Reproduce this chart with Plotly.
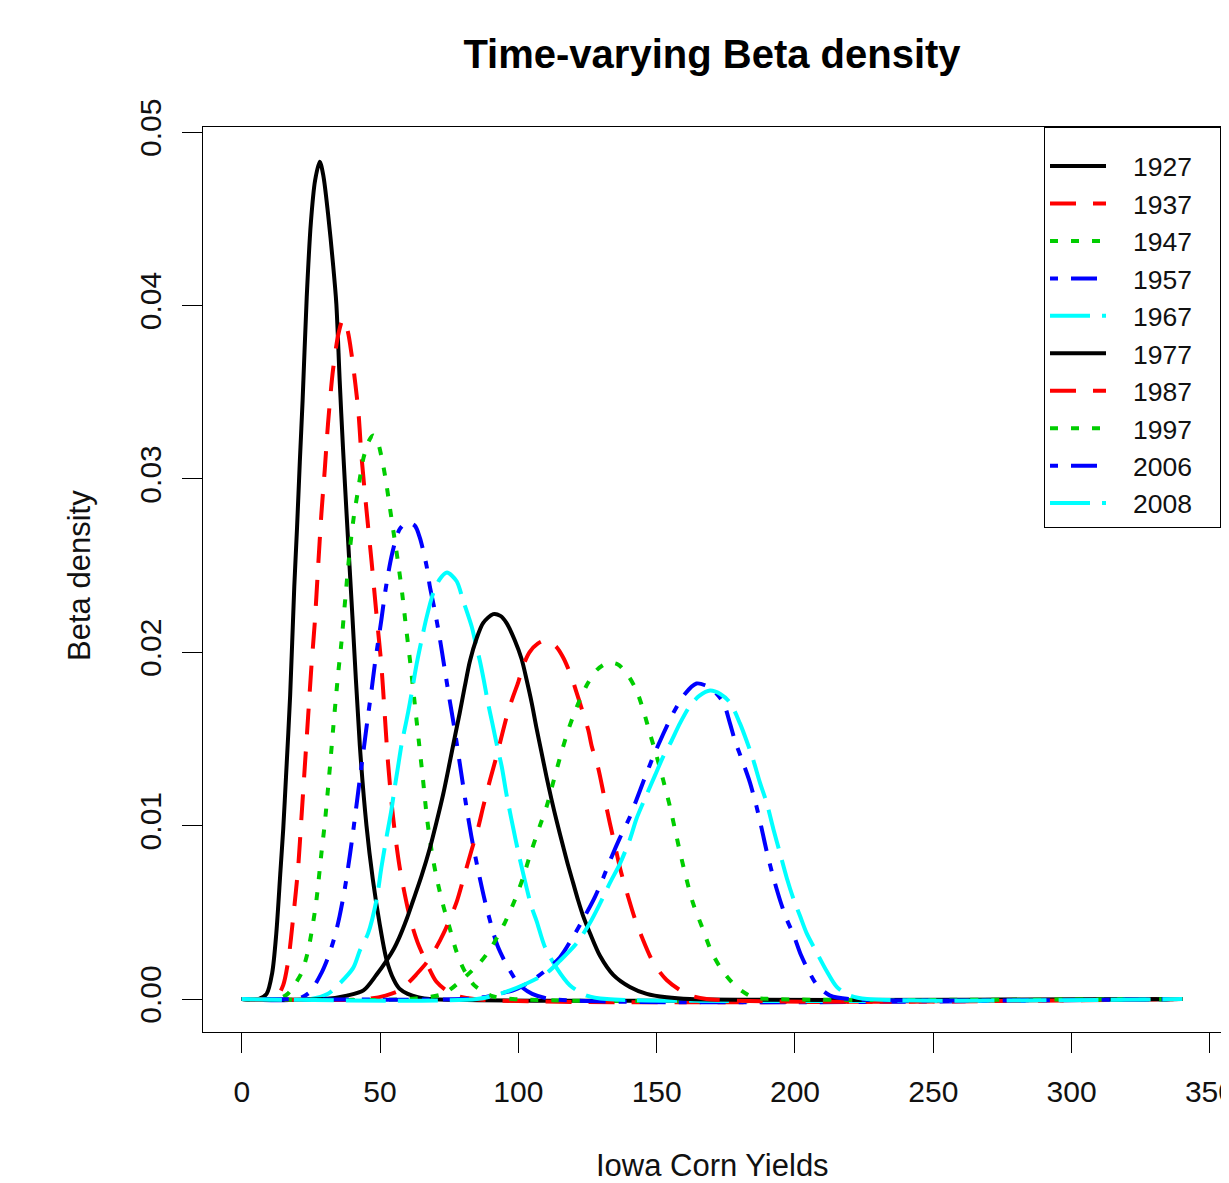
import plotly.graph_objs as go

# Beta density of Iowa corn yields
x_1927 = [0, 6, 9, 11, 12.5, 14, 15, 16, 17.5, 19, 20, 21, 22, 23.5, 25, 26.5, 28.2, 29.5, 31.2, 33,
          34.2, 35.4, 36.6, 37.9, 40, 42.7, 45.1, 47.4, 49.9, 52.3, 55, 57, 60, 64, 68, 340]
y_1927 = [0, 0, 0.0003, 0.0015, 0.0038, 0.0074, 0.0098, 0.0128, 0.0175, 0.0238, 0.0272, 0.031, 0.0345,
          0.0405, 0.0448, 0.0472, 0.0483, 0.0475, 0.0453, 0.0424, 0.0401, 0.0357, 0.0318, 0.028, 0.0221,
          0.0146, 0.0100, 0.0069, 0.0043, 0.0023, 0.0011, 0.0006, 0.0003, 0.0001, 0, 0]

x_1937 = [0, 11, 13, 15, 16.8, 18.6, 20.4, 21.6, 22.8, 24, 25.2, 26.4, 27.6, 28.8, 30, 31.2, 33, 35, 36.6,
          38.2, 39.7, 42.1, 43.3, 45.1, 46.9, 48.7, 50.5, 51.7, 52.9, 54.7, 57.1, 60.8, 63.5, 66.8, 70.4,
          76, 84, 340]
y_1937 = [0, 0, 0.0002, 0.0008, 0.0022, 0.0047, 0.0076, 0.0105, 0.0134, 0.0163, 0.0192, 0.0217, 0.0249,
          0.028, 0.0305, 0.0332, 0.0363, 0.0384, 0.0392, 0.0386, 0.0372, 0.034, 0.0313, 0.0282, 0.0253,
          0.0222, 0.0192, 0.0164, 0.0136, 0.0105, 0.0076, 0.0047, 0.0033, 0.0021, 0.0010, 0.0003, 0, 0]

x_1947 = [0, 13, 16.6, 19, 21.6, 24, 25.8, 27, 28.8, 30, 31, 32, 33, 34, 35, 36, 37.5, 39, 40.5, 42, 44,
          46, 47.5, 49, 50.5, 52, 53.5, 55, 56.5, 58, 59.5, 61, 62.5, 64, 65.5, 67, 69, 71, 73, 75, 77.5,
          80, 84, 90, 98, 340]
y_1947 = [0, 0, 0.0003, 0.0008, 0.0015, 0.0028, 0.0044, 0.0057, 0.0084, 0.0101, 0.0118, 0.0136, 0.0155,
          0.0173, 0.019, 0.0205, 0.0232, 0.0258, 0.0278, 0.0293, 0.0312, 0.0322, 0.0325, 0.0322, 0.0313,
          0.03, 0.0284, 0.0268, 0.0252, 0.0234, 0.0213, 0.0193, 0.0171, 0.0149, 0.0127, 0.0104, 0.0082,
          0.0066, 0.0053, 0.0042, 0.0028, 0.0018, 0.0008, 0.0002, 0, 0]

x_1957 = [0, 20, 24.6, 28.8, 31.2, 33.6, 35.4, 37.3, 39.1, 40.3, 41.5, 42.7, 44, 45.7, 47, 48.1, 49.3,
          50.5, 51.7, 52.9, 54.1, 55.5, 57.1, 59.8, 62.6, 64.4, 66.8, 68, 69.8, 71.6, 73.4, 75, 77, 79, 81,
          83, 85.5, 88, 90.3, 92.4, 96, 100.5, 105, 112, 340]
y_1957 = [0, 0, 0.0004, 0.0015, 0.0024, 0.0036, 0.0048, 0.0064, 0.0083, 0.0097, 0.0112, 0.0127, 0.0143,
          0.0164, 0.0179, 0.0193, 0.0206, 0.0219, 0.0233, 0.0245, 0.0255, 0.0264, 0.0271, 0.0275, 0.0273,
          0.0266, 0.025, 0.0238, 0.0224, 0.0208, 0.019, 0.0174, 0.0155, 0.0134, 0.0113, 0.0094, 0.0074,
          0.0056, 0.0042, 0.0031, 0.0019, 0.0008, 0.0003, 0, 0]

x_1967 = [0, 25, 31.2, 35.4, 40.3, 42.7, 45.7, 48.7, 50.5, 52.3, 54.1, 55.3, 56.5, 57.8, 59.6, 60.8, 61.9,
          63.2, 65, 66.8, 69.2, 71.5, 74.2, 77.7, 80, 83.1, 84.6, 86.1, 87.5, 89, 90.6, 92.3, 94, 95.6,
          97.2, 99, 100.5, 103, 104.8, 106.6, 109.6, 113.8, 118.6, 124.7, 132, 340]
y_1967 = [0, 0, 0.0003, 0.0009, 0.0018, 0.0028, 0.0038, 0.0057, 0.0076, 0.0093, 0.0109, 0.0122, 0.0134,
          0.0147, 0.0161, 0.0171, 0.0181, 0.0193, 0.0207, 0.022, 0.0234, 0.0242, 0.0246, 0.0241, 0.023,
          0.0215, 0.0205, 0.0195, 0.0184, 0.0171, 0.0159, 0.0146, 0.0134, 0.0119, 0.0106, 0.0092, 0.0081,
          0.0064, 0.0053, 0.0045, 0.003, 0.0018, 0.0008, 0.0002, 0, 0]

x_1977 = [0, 30, 38, 44, 48.7, 52.3, 55, 57.1, 59.6, 62, 65, 68, 70.4, 72.8, 75, 77, 78.8, 80.6, 82.5,
          84.9, 87.3, 90.9, 93.5, 95.7, 98.7, 101.2, 103, 104.8, 106.6, 108.4, 110.2, 112, 113.8, 116.2,
          118, 119.8, 121.6, 123.4, 125.9, 129.5, 134.3, 140.3, 146.4, 153.6, 162, 340]
y_1977 = [0, 0, 0.0002, 0.0005, 0.0014, 0.0022, 0.0029, 0.0036, 0.0046, 0.0057, 0.0071, 0.0087, 0.0102,
          0.0118, 0.0135, 0.0151, 0.0165, 0.018, 0.0195, 0.0208, 0.0217, 0.0222, 0.0221, 0.0217, 0.0207,
          0.0196, 0.0184, 0.0171, 0.0156, 0.0142, 0.0128, 0.0115, 0.0103, 0.0088, 0.0077, 0.0067, 0.0057,
          0.0048, 0.0038, 0.0025, 0.0014, 0.0007, 0.0003, 0.0001, 0, 0]

x_1987 = [0, 45, 52, 57.1, 60, 63, 66.8, 70.4, 73, 75.2, 77.7, 80.6, 83.1, 85.5, 87.3, 89.7, 92.1, 94.5,
          96.3, 98.2, 100, 101.7, 104, 107, 110.2, 113.8, 116.2, 119.2, 121, 122.8, 125.3, 126.5, 128.9,
          131, 133, 135, 137, 139.5, 142, 144.6, 148.8, 153.6, 160.8, 168, 340]
y_1987 = [0, 0, 0.0002, 0.0005, 0.0009, 0.0014, 0.0021, 0.003, 0.0038, 0.0046, 0.0056, 0.0072, 0.0086,
          0.0099, 0.0111, 0.0126, 0.014, 0.0155, 0.0166, 0.0175, 0.0183, 0.0192, 0.02, 0.0205, 0.0207,
          0.0203, 0.0197, 0.0186, 0.0177, 0.0168, 0.0155, 0.0146, 0.0133, 0.0117, 0.0102, 0.0088, 0.0074,
          0.006, 0.0047, 0.0036, 0.0021, 0.0011, 0.0003, 0, 0]

x_1997 = [0, 60, 72.8, 79.5, 86.1, 90.3, 95.1, 98.7, 101.7, 104.2, 107.8, 110.2, 112.6, 115, 118, 121,
          124.7, 128.5, 132.5, 136, 139.5, 142.7, 145.1, 147.6, 150, 152.4, 154.8, 156.6, 158.4, 160.8,
          163.2, 166.3, 169.9, 173.5, 178.9, 184.9, 192, 340]
y_1997 = [0, 0, 0.0003, 0.0011, 0.0021, 0.003, 0.0044, 0.0057, 0.007, 0.0083, 0.01, 0.0111, 0.0125,
          0.0139, 0.0155, 0.0168, 0.0181, 0.019, 0.0194, 0.0193, 0.0187, 0.0178, 0.0167, 0.0153, 0.014,
          0.0126, 0.0111, 0.0098, 0.0085, 0.0069, 0.0055, 0.0042, 0.0027, 0.0017, 0.0007, 0.0001, 0, 0]

x_2006 = [0, 80, 87.3, 93, 98.1, 102, 105.2, 110.2, 115, 119.8, 123.4, 127.7, 130.7, 133.7, 136.7, 140.3,
          142.7, 145.8, 148.8, 152.4, 156, 160.2, 164.4, 167.5, 170.5, 174.1, 176.5, 178.3, 181.3, 183.7,
          186.1, 188, 189.8, 192.2, 194.6, 197, 199.5, 202, 205, 208, 212.7, 220, 340]
y_2006 = [0, 0, 0.0001, 0.0003, 0.0005, 0.0008, 0.0011, 0.0017, 0.0024, 0.0036, 0.0046, 0.0059, 0.007,
          0.0082, 0.0093, 0.0105, 0.0115, 0.0128, 0.014, 0.0153, 0.0165, 0.0176, 0.0182, 0.0181, 0.0178,
          0.0171, 0.0159, 0.0149, 0.0136, 0.0125, 0.0111, 0.0098, 0.0085, 0.007, 0.0057, 0.0046, 0.0037,
          0.0026, 0.0016, 0.0008, 0.0002, 0, 0]

x_2008 = [0, 85, 93.3, 103, 110.2, 115, 121, 125.9, 129.5, 133.1, 136.7, 140.3, 142.7, 146.4, 149.4,
          152.4, 155.4, 158.4, 162, 165.5, 169.3, 173, 176.5, 180.1, 182.5, 184.9, 187.3, 189.8, 192.2,
          194.6, 197, 199.4, 201.8, 204.2, 207.8, 211.5, 215.1, 219.9, 226, 340]
y_2008 = [0, 0, 0.0003, 0.0009, 0.0015, 0.0022, 0.0032, 0.0044, 0.0055, 0.0067, 0.0078, 0.0092, 0.0104,
          0.0118, 0.0129, 0.014, 0.0149, 0.0159, 0.0169, 0.0175, 0.0178, 0.0176, 0.0171, 0.0159, 0.0149,
          0.0138, 0.0125, 0.0113, 0.0098, 0.0084, 0.007, 0.0058, 0.0048, 0.0038, 0.0027, 0.0016, 0.0007,
          0.0002, 0, 0]

years = ['1927', '1937', '1947', '1957', '1967', '1977', '1987', '1997', '2006', '2008']
xs = [x_1927, x_1937, x_1947, x_1957, x_1967, x_1977, x_1987, x_1997, x_2006, x_2008]
ys = [y_1927, y_1937, y_1947, y_1957, y_1967, y_1977, y_1987, y_1997, y_2006, y_2008]

x_ticks = [0, 50, 100, 150, 200, 250, 300, 350]
y_ticks = [0, 0.01, 0.02, 0.03, 0.04, 0.05]
y_ticktext = ['0.00', '0.01', '0.02', '0.03', '0.04', '0.05']

# R's default palette and line types 1..5, recycled
colors = ['#000000', '#FF0000', '#00CD00', '#0000FF', '#00FFFF'] * 2
dashes = ['solid', '26px,17px', '8px,13px', '8px,13px,26px,13px', '40px,12px'] * 2

FONT = 'Liberation Sans, Arial, Helvetica, sans-serif'
NBSP = '\u00a0'

traces = []
for year, x, y, c, d in zip(years, xs, ys, colors, dashes):
    # padded name only to push the legend text right, as in the R legend box
    traces.append(go.Scatter(name=NBSP * 3 + year + NBSP * 3, x=x, y=y, mode='lines',
                             line=dict(color=c, width=4, dash=d, shape='spline', smoothing=0.8)))

axis = dict(showline=True, linecolor='black', linewidth=1, mirror=True, automargin=False,
            showgrid=False, zeroline=False, ticks='outside', ticklen=20,
            tickcolor='black', tickwidth=1, tickfont=dict(family=FONT, size=30, color='#111111'))

# page body has an 8px margin, so the figure is 8px smaller than the window
layout = dict(
    width=1221,
    height=1175,
    autosize=False,
    margin=dict(l=195, r=8, t=119, b=151, autoexpand=False),
    paper_bgcolor='white',
    plot_bgcolor='white',
    title=dict(text='Time-varying Beta density', x=0.5, xref='paper', xanchor='center',
               y=1 - 46 / 1175, yref='container', yanchor='middle',
               font=dict(family=FONT, size=40, color='black', weight='bold')),
    xaxis=dict(axis, range=[-14, 354], tickvals=x_ticks, ticklabelstandoff=13,
               ticklabeloverflow='allow'),
    yaxis=dict(axis, range=[-0.0019, 0.0503], tickvals=y_ticks, ticktext=y_ticktext,
               tickangle=-90, ticklabelstandoff=9),
    showlegend=True,
    legend=dict(x=1, xanchor='right', y=1, yanchor='top', bgcolor='white',
                bordercolor='black', borderwidth=1, itemwidth=56,
                title=dict(text=NBSP, font=dict(size=11)),
                font=dict(family=FONT, size=26.5, color='#111111')),
    annotations=[
        dict(text='Iowa Corn Yields', xref='paper', yref='paper', x=0.5, y=-0.148,
             xanchor='center', yanchor='middle', showarrow=False,
             font=dict(family=FONT, size=31, color='#111111')),
        dict(text='Beta density', xref='paper', yref='paper', x=-0.1208, y=0.504,
             xanchor='center', yanchor='middle', showarrow=False, textangle=-90,
             font=dict(family=FONT, size=31, color='#111111')),
    ],
)

fig = go.Figure(data=traces, layout=layout)
fig.write_html("out.html")
